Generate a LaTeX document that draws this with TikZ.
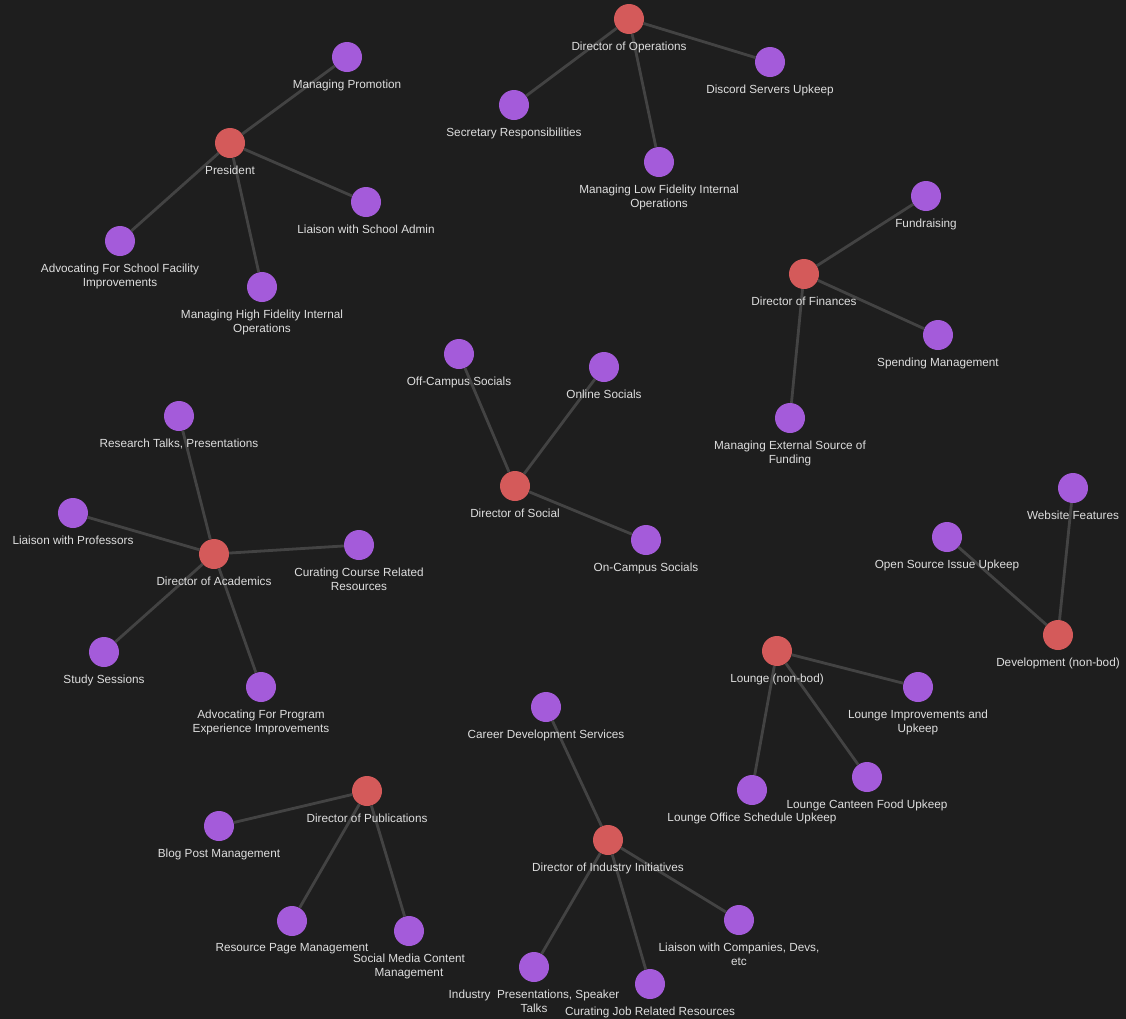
\documentclass[tikz,border=0pt]{standalone}
\usepackage{fontspec}
\setmainfont{Liberation Sans}
\definecolor{bg}{HTML}{1E1E1E}
\definecolor{redn}{HTML}{D45A5A}
\definecolor{purn}{HTML}{A45BDA}
\definecolor{edge}{HTML}{434343}
\definecolor{txt}{HTML}{DEDEDE}
\tikzset{
  hub/.style={circle,fill=redn,minimum size=30bp,inner sep=0pt},
  leaf/.style={circle,fill=purn,minimum size=30bp,inner sep=0pt},
  lab/.style={text=txt,font=\fontsize{11.8}{14}\selectfont,align=center,inner sep=0pt,anchor=north},
  link/.style={draw=edge,line width=2.8bp},
}
\begin{document}
\begin{tikzpicture}[x=1bp,y=-1bp]
\fill[bg] (0,0) rectangle (1126,1019);
\useasboundingbox (0,0) rectangle (1126,1019);
% hubs
\node[hub] (ops) at (629,19) {};
\node[hub] (pres) at (230,143) {};
\node[hub] (fin) at (804,274) {};
\node[hub] (soc) at (515,486) {};
\node[hub] (acad) at (214,554) {};
\node[hub] (dev) at (1058,635) {};
\node[hub] (lng) at (777,651) {};
\node[hub] (pub) at (367,791) {};
\node[hub] (ind) at (608,840) {};
% leaves
\node[leaf] (promo) at (347,57) {};
\node[leaf] (lsa) at (366,202) {};
\node[leaf] (asf) at (120,241) {};
\node[leaf] (mhf) at (262,287) {};
\node[leaf] (sec) at (514,105) {};
\node[leaf] (disc) at (770,62) {};
\node[leaf] (mlf) at (659,162) {};
\node[leaf] (fund) at (926,196) {};
\node[leaf] (spend) at (938,335) {};
\node[leaf] (ext) at (790,418) {};
\node[leaf] (off) at (459,354) {};
\node[leaf] (onl) at (604,367) {};
\node[leaf] (onc) at (646,540) {};
\node[leaf] (res) at (179,416) {};
\node[leaf] (lprof) at (73,513) {};
\node[leaf] (ccr) at (359,545) {};
\node[leaf] (study) at (104,652) {};
\node[leaf] (ape) at (261,687) {};
\node[leaf] (web) at (1073,488) {};
\node[leaf] (osi) at (947,537) {};
\node[leaf] (liu) at (918,687) {};
\node[leaf] (lcf) at (867,777) {};
\node[leaf] (los) at (752,790) {};
\node[leaf] (cds) at (546,707) {};
\node[leaf] (blog) at (219,826) {};
\node[leaf] (rpm) at (292,921) {};
\node[leaf] (smc) at (409,931) {};
\node[leaf] (ipst) at (534,967) {};
\node[leaf] (cjr) at (650,984) {};
\node[leaf] (lcd) at (739,920) {};
% edges
\foreach \a/\b in {ops/sec, ops/disc, ops/mlf, pres/promo, pres/lsa, pres/asf, pres/mhf,
  fin/fund, fin/spend, fin/ext, soc/off, soc/onl, soc/onc,
  acad/res, acad/lprof, acad/ccr, acad/study, acad/ape, dev/web, dev/osi,
  lng/liu, lng/lcf, lng/los, pub/blog, pub/rpm, pub/smc,
  ind/cds, ind/ipst, ind/cjr, ind/lcd}
  \draw[link] (\a) -- (\b);
% labels
\foreach \n/\t in {ops/Director of Operations, pres/President, fin/Director of Finances, soc/Director of Social, acad/Director of Academics, dev/Development (non-bod), lng/Lounge (non-bod), pub/Director of Publications, ind/Director of Industry Initiatives,
promo/Managing Promotion, lsa/Liaison with School Admin, asf/{Advocating For School Facility\\Improvements}, mhf/{Managing High Fidelity Internal\\Operations}, sec/Secretary Responsibilities, disc/Discord Servers Upkeep, mlf/{Managing Low Fidelity Internal\\Operations}, fund/Fundraising, spend/Spending Management, ext/{Managing External Source of\\Funding}, off/Off-Campus Socials, onl/Online Socials, onc/On-Campus Socials, res/{Research Talks, Presentations}, lprof/Liaison with Professors, ccr/{Curating Course Related\\Resources}, study/Study Sessions, ape/{Advocating For Program\\Experience Improvements}, web/Website Features, osi/Open Source Issue Upkeep, liu/{Lounge Improvements and\\Upkeep}, lcf/Lounge Canteen Food Upkeep, los/Lounge Office Schedule Upkeep, cds/Career Development Services, blog/Blog Post Management, rpm/Resource Page Management, smc/{Social Media Content\\Management}, ipst/{Industry\ \ Presentations, Speaker\\Talks}, cjr/Curating Job Related Resources, lcd/{Liaison with Companies, Devs,\\etc}}
  \node[lab] (\n-l) at ([yshift=-22.5bp]\n.center) {\t};
\end{tikzpicture}
\end{document}
